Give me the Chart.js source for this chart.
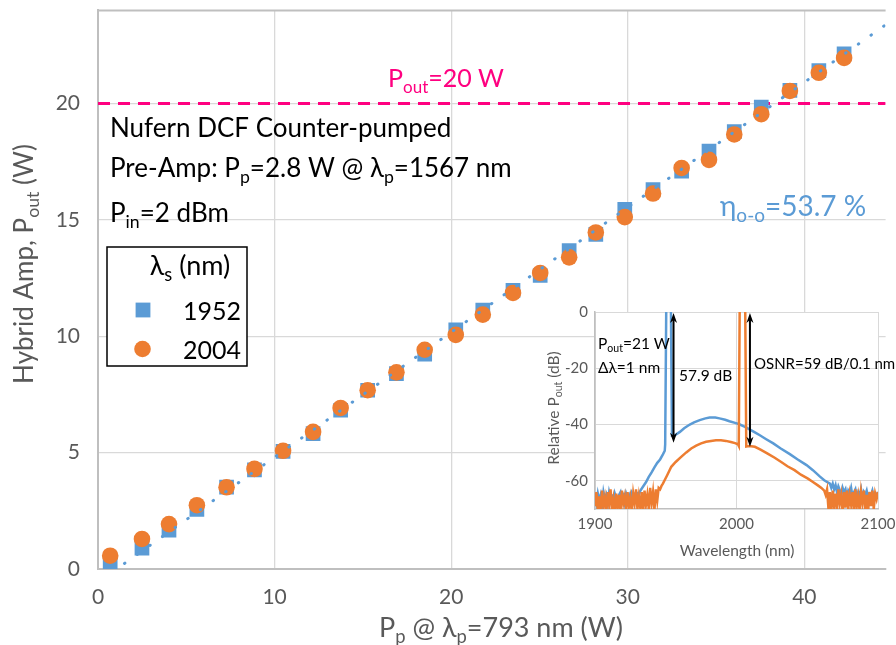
<!DOCTYPE html>
<html>
<head>
<meta charset="utf-8">
<script src="https://cdn.jsdelivr.net/npm/chart.js@4/dist/chart.umd.min.js"></script>
<style>
  html, body { margin: 0; padding: 0; background: #fff; }
  #wrap { position: relative; width: 896px; height: 645px; overflow: hidden; }
  #main { position: absolute; left: 0; top: 0; }
  #inset { position: absolute; left: 540px; top: 296px; }
</style>
</head>
<body>
<div id="wrap">
  <canvas id="main" width="896" height="645"></canvas>
  <canvas id="inset" width="356" height="272"></canvas>
</div>
<script>
// main plot: output power vs pump power
const pumpW = [0.69, 2.49, 4.02, 5.6, 7.28, 8.86, 10.48, 12.18, 13.74, 15.27, 16.9, 18.5, 20.26, 21.79,
  23.5, 25.04, 26.68, 28.19, 29.83, 31.43, 33.05, 34.6, 36.03, 37.56, 39.18, 40.82, 42.25];
const out1952 = [0.27, 0.9, 1.67, 2.56, 3.52, 4.26, 5.05, 5.82, 6.82, 7.68, 8.39, 9.23, 10.27, 11.12,
  11.97, 12.61, 13.68, 14.38, 15.45, 16.3, 17.09, 17.96, 18.79, 19.85, 20.56, 21.41, 22.13];
const out2004 = [0.57, 1.29, 1.93, 2.74, 3.51, 4.3, 5.08, 5.89, 6.92, 7.68, 8.45, 9.42, 10.06, 10.93,
  11.86, 12.72, 13.39, 14.46, 15.12, 16.13, 17.23, 17.58, 18.67, 19.54, 20.54, 21.32, 21.96];
const fitX = [1.5, 44.6];
const fitY = [0.24, 23.38];
const limitX = [0, 44.6];
const limitY = [20, 20];
const xTicks = [0, 10, 20, 30, 40];
const yTicks = [0, 5, 10, 15, 20];

// inset: output spectra
const blueWl = [1900, 1901, 1902, 1903, 1904, 1905, 1906, 1907, 1908, 1909, 1910, 1911, 1912, 1913, 1914, 1915,
  1916, 1917, 1918, 1919, 1920, 1921, 1922, 1923, 1924, 1925, 1926, 1927, 1928, 1929, 1930, 1931, 1932,
  1934, 1936, 1938, 1940, 1942, 1944, 1946, 1948, 1949.3, 1949.6, 1950.4, 1953.6, 1954.4, 1955.5, 1957, 1960,
  1963, 1967, 1970, 1974, 1978, 1981, 1985, 1988, 1992, 1995, 1999, 2002, 2006, 2009.5, 2013, 2016.5, 2021,
  2026, 2031, 2037.7, 2043, 2049.5, 2054, 2059, 2062, 2066,
  2067, 2068, 2069, 2070, 2071, 2072, 2073, 2074, 2075, 2076, 2077, 2078, 2079, 2080, 2081, 2082, 2083,
  2084, 2085, 2086, 2087, 2088, 2089, 2090, 2091, 2092, 2093, 2094, 2095, 2096, 2097, 2098, 2099, 2100];
const blueDb = [-66, -68, -64.5, -67, -65, -69, -64, -66.5, -65, -68, -64, -66, -65.5, -68.5, -64.5, -66,
  -67.5, -65, -64, -67, -65.5, -68, -64.5, -66, -65, -67.5, -64.5, -66, -65, -66.5, -64.5, -65, -63.5,
  -62, -60.5, -58.6, -57, -55.2, -53.6, -52.4, -50.6, -49.3, -47, 5, 5, -44, -44.2, -43.6, -42.6,
  -41.3, -40, -39.2, -38.4, -37.8, -37.5, -37.5, -37.8, -38.3, -38.8, -39.4, -39.9, -40.8, -41.8, -42.8, -43.8, -45.2,
  -46.7, -48.4, -50.5, -52.3, -54.4, -56.2, -58.5, -59.8, -61,
  -62.5, -61, -63, -61.5, -64, -62, -63.3, -65.5, -62.5, -64, -63, -66, -63.5, -64.5, -62.5, -65.5, -64,
  -63, -66, -64, -65, -63, -66.5, -64, -65, -63.5, -66, -64.5, -65, -63.5, -66, -64.5, -65, -64];
const orangeWl = [1900, 1901, 1902, 1903, 1904, 1905, 1906, 1907, 1908, 1909, 1910, 1911, 1912, 1913, 1914,
  1915, 1916, 1917, 1918, 1919, 1920, 1921, 1922, 1923, 1924, 1925, 1926, 1927, 1928, 1929, 1930, 1931, 1932,
  1933, 1934, 1935, 1936, 1937, 1938, 1939, 1940, 1941, 1942, 1943, 1944, 1945,
  1946, 1947, 1948, 1949.2, 1951, 1953.9, 1957, 1960.9, 1964.5, 1968, 1971.5, 1975, 1978.5, 1982, 1985.5,
  1989, 1992.5, 1996, 1999, 2001, 2001.6, 2002.3, 2006.1, 2006.9, 2009, 2013, 2017, 2022, 2027, 2031.6,
  2036, 2041, 2045.5, 2050.5, 2054, 2057.5, 2060, 2062,
  2063, 2064, 2065, 2066, 2067, 2068, 2069, 2070, 2071, 2072, 2073, 2074, 2075, 2076, 2077, 2078, 2079,
  2080, 2081, 2082, 2083, 2084, 2085, 2086, 2087, 2088, 2089, 2090, 2091, 2092, 2093, 2094, 2095, 2096,
  2097, 2098, 2099, 2100];
const orangeDb = [-69, -64, -70.5, -65.5, -71, -63.5, -69, -66, -71, -64, -68.5, -63, -70, -66.5, -71,
  -64.5, -69.5, -65, -71, -63.5, -68, -65.5, -70.5, -64, -69, -66, -71, -64.5, -68, -63, -70, -65.5, -69.5,
  -64, -71, -63.5, -68.5, -65, -70, -62.5, -68, -64, -70.5, -63, -67, -62.5,
  -63, -61.8, -61, -59.8, -58, -55, -53.3, -51.5, -49.9, -48.5, -47.5, -46.7, -46.1, -45.8, -45.6,
  -45.6, -45.8, -46.2, -46.6, -47, -47.6, 5, 5, -47.8, -47.6, -47.9, -48.9, -50.3, -51.8, -53.3,
  -54.8, -56.2, -57.8, -59.2, -60.4, -61.6, -62.5, -63.5,
  -65, -63, -70, -64, -71, -63.5, -69, -64.5, -70.5, -63, -68, -65, -71, -64, -69.5, -63.5, -70,
  -65, -68.5, -64, -71, -63, -69, -65.5, -70.5, -64, -68, -63.5, -70, -65, -71, -64, -69, -63.5,
  -70, -64.5, -66.5, -64];
const wlTicks = [1900, 2000, 2100];
const dbTicks = [0, -20, -40, -60];
const arrowWl = [1955.5, 2009.5];
const arrowDb = [-46.5, -47.9];

const FONT = 'Lato, "Open Sans", sans-serif';
const GRID = '#d9d9d9';
const AXIS = '#bfbfbf';
const LABEL = '#595959';
const BLUE = '#5b9bd5';
const ORANGE = '#ed7d31';
const PINK = '#ff0080';

function xy(xs, ys) {
  return xs.map((x, i) => ({ x: x, y: ys[i] }));
}

// text with subscripts: odd entries of parts are drawn as subscript
function rich(ctx, x, y, parts, size, color, align) {
  const sub = size * 0.68;
  let total = 0;
  const widths = parts.map((p, i) => {
    ctx.font = (i % 2 ? sub : size) + 'px ' + FONT;
    const w = ctx.measureText(p).width;
    total += w;
    return w;
  });
  let cx = align === 'center' ? x - total / 2 : align === 'right' ? x - total : x;
  ctx.fillStyle = color;
  ctx.textAlign = 'left';
  ctx.textBaseline = 'alphabetic';
  parts.forEach((p, i) => {
    ctx.font = (i % 2 ? sub : size) + 'px ' + FONT;
    ctx.fillText(p, cx, y + (i % 2 ? size * 0.22 : 0));
    cx += widths[i];
  });
}

function arrowHead(ctx, x, y, dir) {
  ctx.beginPath();
  ctx.moveTo(x, y);
  ctx.lineTo(x - 3.5, y - dir * 10);
  ctx.lineTo(x, y - dir * 7);
  ctx.lineTo(x + 3.5, y - dir * 10);
  ctx.closePath();
  ctx.fill();
}

const mainDecor = {
  id: 'mainDecor',
  beforeDatasetsDraw(chart) {
    const { ctx, chartArea: a } = chart;
    ctx.save();
    ctx.strokeStyle = AXIS;
    ctx.lineWidth = 2;
    ctx.beginPath();
    ctx.moveTo(a.left, a.top);
    ctx.lineTo(a.right, a.top);
    ctx.stroke();
    ctx.restore();
  },
  afterDraw(chart) {
    const ctx = chart.ctx;
    ctx.save();
    rich(ctx, 388, 87, ['P', 'out', '=20 W'], 25, PINK, 'left');
    rich(ctx, 110, 137, ['Nufern DCF Counter-pumped'], 26, '#000', 'left');
    rich(ctx, 110, 177, ['Pre-Amp: P', 'p', '=2.8 W @ λ', 'p', '=1567 nm'], 26, '#000', 'left');
    rich(ctx, 110, 222, ['P', 'in', '=2 dBm'], 26, '#000', 'left');
    rich(ctx, 720, 216, ['η', 'o-o', '=53.7 %'], 28, BLUE, 'left');

    // legend box
    ctx.fillStyle = '#fff';
    ctx.fillRect(107, 247, 140, 119);
    ctx.strokeStyle = '#000';
    ctx.lineWidth = 1.5;
    ctx.strokeRect(107, 247, 140, 119);
    rich(ctx, 190, 275, ['λ', 's', ' (nm)'], 27, '#000', 'center');
    ctx.fillStyle = BLUE;
    ctx.fillRect(143 - 7.4, 310 - 7.4, 14.8, 14.8);
    ctx.fillStyle = ORANGE;
    ctx.beginPath();
    ctx.arc(142.5, 349, 8.3, 0, Math.PI * 2);
    ctx.fill();
    rich(ctx, 241, 320, ['1952'], 25, '#000', 'right');
    rich(ctx, 241, 359, ['2004'], 25, '#000', 'right');

    // axis titles
    rich(ctx, 501, 637, ['P', 'p', ' @ λ', 'p', '=793 nm (W)'], 27, LABEL, 'center');
    ctx.translate(33, 264);
    ctx.rotate(-Math.PI / 2);
    rich(ctx, 0, 0, ['Hybrid Amp, P', 'out', ' (W)'], 26, LABEL, 'center');
    ctx.restore();
  }
};

new Chart(document.getElementById('main'), {
  type: 'scatter',
  data: {
    datasets: [
      { label: 'fit', data: xy(fitX, fitY), showLine: true, borderColor: BLUE, borderWidth: 3,
        borderDash: [0.5, 15], borderCapStyle: 'round', pointRadius: 0 },
      { label: '2004', data: xy(pumpW, out2004), pointStyle: 'circle', pointRadius: 8.3,
        backgroundColor: ORANGE, borderWidth: 0 },
      { label: '1952', data: xy(pumpW, out1952), pointStyle: 'rect', pointRadius: 10.4,
        backgroundColor: BLUE, borderWidth: 0 },
      { label: 'limit', data: xy(limitX, limitY), showLine: true, borderColor: PINK, borderWidth: 3,
        borderDash: [12, 8], pointRadius: 0 }
    ]
  },
  options: {
    responsive: false,
    animation: false,
    events: [],
    layout: { padding: { top: 7, right: 0, bottom: 0, left: 0 } },
    plugins: { legend: { display: false }, tooltip: { enabled: false } },
    scales: {
      x: {
        type: 'linear', min: 0, max: 44.6,
        afterBuildTicks: a => { a.ticks = xTicks.map(v => ({ value: v })); },
        afterFit: a => { a.height = 76; a.paddingLeft = 0; a.paddingRight = 0; },
        grid: { color: GRID, lineWidth: 1.3, drawTicks: false },
        border: { color: AXIS, width: 2 },
        ticks: { font: { family: FONT, size: 21 }, color: LABEL, padding: 16, maxRotation: 0,
          callback: v => String(v) }
      },
      y: {
        type: 'linear', min: 0, max: 24,
        afterBuildTicks: a => { a.ticks = yTicks.map(v => ({ value: v })); },
        afterFit: a => { a.width = 98; a.paddingTop = 0; a.paddingBottom = 0; },
        grid: { color: GRID, lineWidth: 1.3, drawTicks: false },
        border: { color: AXIS, width: 2 },
        ticks: { font: { family: FONT, size: 21 }, color: LABEL, padding: 18, callback: v => String(v) }
      }
    }
  },
  plugins: [mainDecor]
});

const insetDecor = {
  id: 'insetDecor',
  beforeDraw(chart) {
    const { ctx, chartArea: a } = chart;
    ctx.save();
    ctx.fillStyle = '#fff';
    ctx.fillRect(a.left, a.top, a.right - a.left, a.bottom - a.top);
    ctx.restore();
  },
  afterDraw(chart) {
    const { ctx, scales } = chart;
    ctx.save();
    ctx.strokeStyle = '#000';
    ctx.fillStyle = '#000';
    ctx.lineWidth = 2;
    arrowWl.forEach((wl, i) => {
      const px = scales.x.getPixelForValue(wl);
      const top = scales.y.getPixelForValue(0) + 1;
      const bot = scales.y.getPixelForValue(arrowDb[i]);
      ctx.beginPath();
      ctx.moveTo(px, top + 6);
      ctx.lineTo(px, bot - 6);
      ctx.stroke();
      arrowHead(ctx, px, top, -1);
      arrowHead(ctx, px, bot, 1);
    });
    rich(ctx, 58, 53, ['P', 'out', '=21 W'], 15.5, '#000', 'left');
    rich(ctx, 58, 77, ['Δλ=1 nm'], 15.5, '#000', 'left');
    rich(ctx, 139, 85, ['57.9 dB'], 15.5, '#000', 'left');
    rich(ctx, 214, 73, ['OSNR=59 dB/0.1 nm'], 15, '#000', 'left');
    rich(ctx, 197, 260, ['Wavelength (nm)'], 15.5, LABEL, 'center');
    ctx.translate(19, 112);
    ctx.rotate(-Math.PI / 2);
    rich(ctx, 0, 0, ['Relative P', 'out', ' (dB)'], 15.5, LABEL, 'center');
    ctx.restore();
  }
};

new Chart(document.getElementById('inset'), {
  type: 'scatter',
  data: {
    datasets: [
      { label: '2004 nm', data: xy(orangeWl, orangeDb), showLine: true, borderColor: ORANGE,
        borderWidth: 2.5, pointRadius: 0 },
      { label: '1952 nm', data: xy(blueWl, blueDb), showLine: true, borderColor: BLUE,
        borderWidth: 2.5, pointRadius: 0 }
    ]
  },
  options: {
    responsive: false,
    animation: false,
    events: [],
    layout: { padding: { top: 16, right: 18, bottom: 0, left: 0 } },
    plugins: { legend: { display: false }, tooltip: { enabled: false } },
    scales: {
      x: {
        type: 'linear', min: 1900, max: 2100,
        afterBuildTicks: a => { a.ticks = wlTicks.map(v => ({ value: v })); },
        afterFit: a => { a.height = 59; a.paddingLeft = 0; a.paddingRight = 0; },
        grid: { color: GRID, lineWidth: 1, drawTicks: false },
        border: { color: AXIS, width: 1.5 },
        ticks: { font: { family: FONT, size: 15 }, color: LABEL, padding: 6, maxRotation: 0,
          callback: v => String(v) }
      },
      y: {
        type: 'linear', min: -70, max: 0,
        afterBuildTicks: a => { a.ticks = dbTicks.map(v => ({ value: v })); },
        afterFit: a => { a.width = 55; a.paddingTop = 0; a.paddingBottom = 0; },
        grid: { color: GRID, lineWidth: 1, drawTicks: false },
        border: { color: AXIS, width: 1.5 },
        ticks: { font: { family: FONT, size: 15 }, color: LABEL, padding: 7, callback: v => String(v) }
      }
    }
  },
  plugins: [insetDecor]
});
</script>
</body>
</html>
